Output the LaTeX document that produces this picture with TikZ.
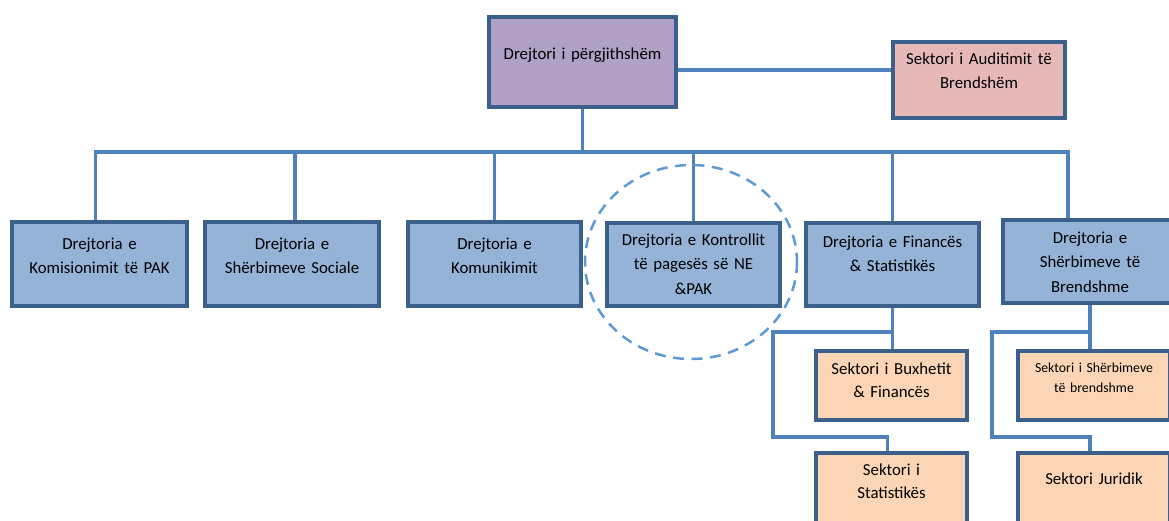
\documentclass[tikz,border=0pt]{standalone}
\usepackage{fontspec}
\setmainfont{Carlito}
\usetikzlibrary{backgrounds, calc}

\definecolor{borderBlue}{RGB}{60,96,140}
\definecolor{linkBlue}{RGB}{79,129,189}
\definecolor{deptFill}{RGB}{149,179,215}
\definecolor{headFill}{RGB}{178,161,199}
\definecolor{auditFill}{RGB}{230,185,184}
\definecolor{sectFill}{RGB}{251,213,181}
\definecolor{ringBlue}{RGB}{91,155,213}

\begin{document}
\begin{tikzpicture}[x=1pt, y=-1pt,
	orgBox/.style={draw=borderBlue, line width=4pt, inner sep=0pt, anchor=north west, align=center, text=black, font=\fontsize{16.8}{24.5}\selectfont},
	deptBox/.style={orgBox, fill=deptFill},
	sectBox/.style={orgBox, fill=sectFill, font=\fontsize{16.8}{23.3}\selectfont},
	link/.style={draw=linkBlue, line width=3.3pt}]
\useasboundingbox (0,0) rectangle (1169,520);
\clip (0,0) rectangle (1169,520);
\pgfmathsetmacro{\busY}{152}
\pgfmathsetmacro{\branchY}{332}
\pgfmathsetmacro{\returnY}{437}

% Draw top boxes
\node[orgBox, fill=headFill, text width=187pt, text height=42pt, text depth=48pt] (gen) at (487,15) {Drejtori i përgjithshëm};
\node[orgBox, fill=auditFill, text width=172pt, text height=22pt, text depth=54pt] (audit) at (891,40) {Sektori i Auditimit të\\Brendshëm};

% Draw directorates
\node[deptBox, text width=175pt, text height=27pt, text depth=57pt] (kom) at (10,220) {Drejtoria e\\Komisionimit të PAK};
\node[deptBox, text width=174pt, text height=27pt, text depth=57pt] (soc) at (203,220) {Drejtoria e\\Shërbimeve Sociale};
\node[deptBox, text width=173pt, text height=27pt, text depth=57pt] (komu) at (406,220) {Drejtoria e\\Komunikimit};
\node[deptBox, text width=173pt, text height=22pt, text depth=61pt] (kontr) at (605,221) {Drejtoria e Kontrollit\\të pagesës së NE\\\&PAK};
\node[deptBox, text width=173pt, text height=24pt, text depth=59pt] (fin) at (804,221) {Drejtoria e Financës\\\& Statistikës};
\node[deptBox, text width=174pt, text height=23pt, text depth=60pt] (sherb) at (1001,218) {Drejtoria e\\Shërbimeve të\\Brendshme};

% Draw sectors
\node[sectBox, text width=151pt, text height=23pt, text depth=46pt] (bux) at (814,349) {Sektori i Buxhetit\\\& Financës};
\node[sectBox, text width=151pt, text height=22pt, text depth=58pt] (stat) at (814,451) {Sektori i\\Statistikës};
\node[sectBox, text width=152pt, text height=21pt, text depth=48pt, font=\fontsize{13.8}{20}\selectfont] (brend) at (1016,349) {Sektori i Shërbimeve\\të brendshme};
\node[sectBox, text width=152pt, text height=31pt, text depth=49pt] (jur) at (1016,451) {Sektori Juridik};

% Draw connectors
\coordinate (busR) at (1068,\busY);
\coordinate (finL) at (773,\branchY);
\coordinate (finB) at (773,\returnY);
\coordinate (sherbL) at (992,\branchY);
\coordinate (sherbB) at (992,\returnY);
\begin{scope}[on background layer]
\draw[link] ([yshift=-8pt]gen.east) -- ([yshift=-8pt]gen.east -| audit.west);
\draw[link] (gen.south) -- (gen.south |- busR);
\draw[link] ([xshift=-4pt]kom.north) |- (busR) -- (busR |- sherb.north);
\draw[link] ([xshift=3pt]soc.north) -- ([xshift=3pt]soc.north |- busR);
\foreach \dept in {komu,kontr,fin}
	\draw[link] (\dept.north) -- (\dept.north |- busR);
\draw[link] (fin.south) -- (fin.south |- bux.north);
\draw[link] (fin.south |- finL) -- (finL) -- (finB) -| ([xshift=-4pt]stat.north);
\draw[link] (sherb.south) -- (sherb.south |- brend.north);
\draw[link] (sherb.south |- sherbL) -- (sherbL) -- (sherbB) -| (sherb.south |- jur.north);
\end{scope}

% Draw highlight ring
\draw[ringBlue, line width=2.5pt, dash pattern=on 11pt off 7.5pt] (691,262) ellipse[x radius=106, y radius=97];
\end{tikzpicture}
\end{document}
